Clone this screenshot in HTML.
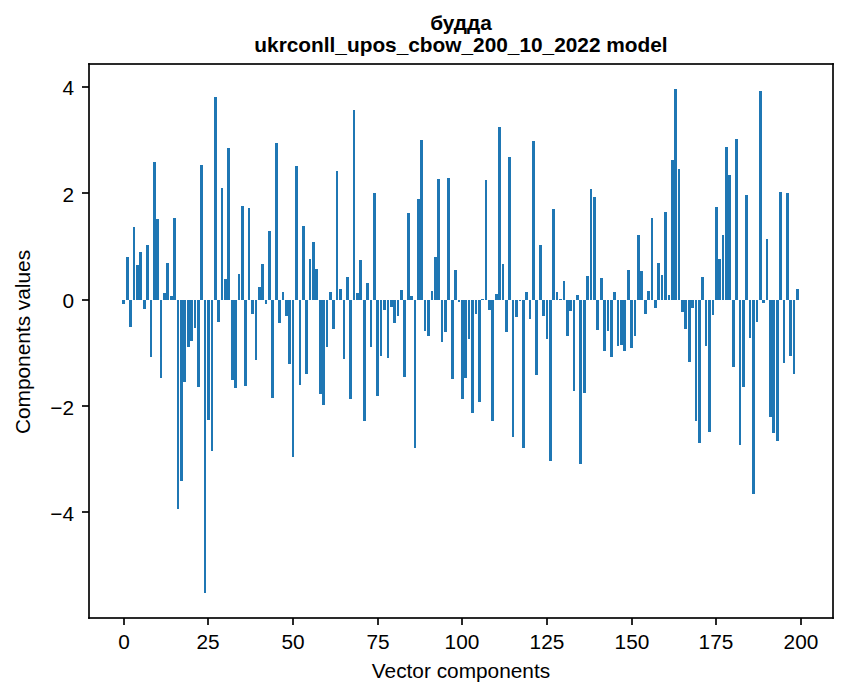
<!DOCTYPE html>
<html lang="uk">
<head>
<meta charset="utf-8">
<title>будда — ukrconll_upos_cbow_200_10_2022 model</title>
<style>
html,body{margin:0;padding:0;background:#fff;}
body{width:847px;height:696px;overflow:hidden;font-family:"Liberation Sans",sans-serif;}
svg{display:block;}
</style>
</head>
<body>
<svg width="847" height="696" viewBox="0 0 847 696" role="img" aria-label="Bar chart: vector components of the word будда, ukrconll_upos_cbow_200_10_2022 model">
<rect width="847" height="696" fill="#fff"/>
<g fill="#1f77b4" shape-rendering="crispEdges"><rect x="122" y="300" width="3" height="4"/><rect x="126" y="257" width="3" height="43"/><rect x="129" y="300" width="3" height="27"/><rect x="133" y="227" width="2" height="73"/><rect x="136" y="265" width="3" height="35"/><rect x="139" y="252" width="3" height="48"/><rect x="143" y="300" width="3" height="9"/><rect x="146" y="245" width="3" height="55"/><rect x="150" y="300" width="2" height="57"/><rect x="153" y="162" width="3" height="138"/><rect x="156" y="219" width="3" height="81"/><rect x="160" y="300" width="2" height="78"/><rect x="163" y="293" width="3" height="7"/><rect x="166" y="263" width="3" height="37"/><rect x="170" y="296" width="3" height="4"/><rect x="173" y="218" width="3" height="82"/><rect x="177" y="300" width="2" height="209"/><rect x="180" y="300" width="3" height="181"/><rect x="183" y="300" width="3" height="82"/><rect x="187" y="300" width="3" height="47"/><rect x="190" y="300" width="3" height="41"/><rect x="194" y="300" width="2" height="28"/><rect x="197" y="300" width="3" height="87"/><rect x="200" y="165" width="3" height="135"/><rect x="204" y="300" width="2" height="293"/><rect x="207" y="300" width="3" height="120"/><rect x="211" y="300" width="2" height="151"/><rect x="214" y="97" width="3" height="203"/><rect x="217" y="300" width="3" height="22"/><rect x="221" y="188" width="2" height="112"/><rect x="224" y="279" width="3" height="21"/><rect x="227" y="148" width="3" height="152"/><rect x="231" y="300" width="3" height="80"/><rect x="234" y="300" width="3" height="88"/><rect x="238" y="274" width="2" height="26"/><rect x="241" y="206" width="3" height="94"/><rect x="244" y="300" width="3" height="86"/><rect x="248" y="208" width="2" height="92"/><rect x="251" y="300" width="3" height="14"/><rect x="255" y="300" width="2" height="60"/><rect x="258" y="287" width="3" height="13"/><rect x="261" y="264" width="3" height="36"/><rect x="265" y="300" width="2" height="4"/><rect x="268" y="231" width="3" height="69"/><rect x="271" y="300" width="3" height="98"/><rect x="275" y="143" width="3" height="157"/><rect x="278" y="300" width="3" height="23"/><rect x="282" y="292" width="2" height="8"/><rect x="285" y="300" width="3" height="16"/><rect x="288" y="300" width="3" height="64"/><rect x="292" y="300" width="2" height="157"/><rect x="295" y="166" width="3" height="134"/><rect x="299" y="300" width="2" height="85"/><rect x="302" y="226" width="3" height="74"/><rect x="305" y="300" width="3" height="74"/><rect x="309" y="259" width="2" height="41"/><rect x="312" y="242" width="3" height="58"/><rect x="315" y="269" width="3" height="31"/><rect x="319" y="300" width="3" height="94"/><rect x="322" y="300" width="3" height="105"/><rect x="326" y="300" width="2" height="47"/><rect x="329" y="292" width="3" height="8"/><rect x="332" y="300" width="3" height="29"/><rect x="336" y="171" width="2" height="129"/><rect x="339" y="289" width="3" height="11"/><rect x="343" y="300" width="2" height="59"/><rect x="346" y="277" width="3" height="23"/><rect x="349" y="300" width="3" height="99"/><rect x="353" y="110" width="2" height="190"/><rect x="356" y="293" width="3" height="7"/><rect x="359" y="260" width="3" height="40"/><rect x="363" y="300" width="3" height="121"/><rect x="366" y="283" width="3" height="17"/><rect x="370" y="300" width="2" height="47"/><rect x="373" y="193" width="3" height="107"/><rect x="376" y="300" width="3" height="96"/><rect x="380" y="300" width="2" height="56"/><rect x="383" y="300" width="3" height="10"/><rect x="387" y="300" width="2" height="58"/><rect x="390" y="300" width="3" height="7"/><rect x="393" y="300" width="3" height="23"/><rect x="397" y="300" width="2" height="16"/><rect x="400" y="290" width="3" height="10"/><rect x="403" y="300" width="3" height="77"/><rect x="407" y="213" width="3" height="87"/><rect x="410" y="296" width="3" height="4"/><rect x="414" y="300" width="2" height="148"/><rect x="417" y="199" width="3" height="101"/><rect x="420" y="140" width="3" height="160"/><rect x="424" y="300" width="2" height="31"/><rect x="427" y="300" width="3" height="36"/><rect x="431" y="291" width="2" height="9"/><rect x="434" y="257" width="3" height="43"/><rect x="437" y="179" width="3" height="121"/><rect x="441" y="300" width="2" height="42"/><rect x="444" y="300" width="3" height="32"/><rect x="447" y="178" width="3" height="122"/><rect x="451" y="300" width="3" height="79"/><rect x="454" y="270" width="3" height="30"/><rect x="458" y="300" width="2" height="2"/><rect x="461" y="300" width="3" height="99"/><rect x="464" y="300" width="3" height="78"/><rect x="468" y="300" width="2" height="39"/><rect x="471" y="300" width="3" height="113"/><rect x="475" y="300" width="2" height="14"/><rect x="478" y="300" width="3" height="102"/><rect x="481" y="299" width="3" height="1"/><rect x="485" y="180" width="2" height="120"/><rect x="488" y="300" width="3" height="10"/><rect x="491" y="300" width="3" height="121"/><rect x="495" y="294" width="3" height="6"/><rect x="498" y="127" width="3" height="173"/><rect x="502" y="264" width="2" height="36"/><rect x="505" y="300" width="3" height="32"/><rect x="508" y="157" width="3" height="143"/><rect x="512" y="300" width="2" height="137"/><rect x="515" y="300" width="3" height="17"/><rect x="519" y="300" width="2" height="1"/><rect x="522" y="300" width="3" height="148"/><rect x="525" y="292" width="3" height="8"/><rect x="529" y="300" width="2" height="19"/><rect x="532" y="141" width="3" height="159"/><rect x="535" y="300" width="3" height="75"/><rect x="539" y="245" width="3" height="55"/><rect x="542" y="300" width="3" height="16"/><rect x="546" y="300" width="2" height="39"/><rect x="549" y="300" width="3" height="161"/><rect x="552" y="209" width="3" height="91"/><rect x="556" y="292" width="2" height="8"/><rect x="559" y="299" width="3" height="1"/><rect x="563" y="281" width="2" height="19"/><rect x="566" y="300" width="3" height="36"/><rect x="569" y="300" width="3" height="11"/><rect x="573" y="300" width="2" height="91"/><rect x="576" y="295" width="3" height="5"/><rect x="579" y="300" width="3" height="164"/><rect x="583" y="300" width="3" height="93"/><rect x="586" y="276" width="3" height="24"/><rect x="590" y="189" width="2" height="111"/><rect x="593" y="197" width="3" height="103"/><rect x="596" y="300" width="3" height="30"/><rect x="600" y="278" width="3" height="22"/><rect x="603" y="300" width="3" height="51"/><rect x="607" y="300" width="2" height="31"/><rect x="610" y="300" width="3" height="57"/><rect x="613" y="292" width="3" height="8"/><rect x="617" y="300" width="2" height="46"/><rect x="620" y="300" width="3" height="45"/><rect x="623" y="300" width="3" height="51"/><rect x="627" y="270" width="3" height="30"/><rect x="630" y="300" width="3" height="48"/><rect x="634" y="300" width="2" height="36"/><rect x="637" y="235" width="3" height="65"/><rect x="640" y="271" width="3" height="29"/><rect x="644" y="300" width="3" height="14"/><rect x="647" y="291" width="3" height="9"/><rect x="651" y="218" width="2" height="82"/><rect x="654" y="300" width="3" height="8"/><rect x="657" y="263" width="3" height="37"/><rect x="661" y="275" width="2" height="25"/><rect x="664" y="212" width="3" height="88"/><rect x="668" y="295" width="2" height="5"/><rect x="671" y="160" width="3" height="140"/><rect x="674" y="89" width="3" height="211"/><rect x="678" y="169" width="2" height="131"/><rect x="681" y="300" width="3" height="12"/><rect x="684" y="300" width="3" height="29"/><rect x="688" y="300" width="3" height="62"/><rect x="691" y="300" width="3" height="8"/><rect x="695" y="300" width="2" height="121"/><rect x="698" y="300" width="3" height="143"/><rect x="701" y="277" width="3" height="23"/><rect x="705" y="300" width="2" height="46"/><rect x="708" y="300" width="3" height="132"/><rect x="712" y="300" width="2" height="15"/><rect x="715" y="207" width="3" height="93"/><rect x="718" y="259" width="3" height="41"/><rect x="722" y="235" width="2" height="65"/><rect x="725" y="147" width="3" height="153"/><rect x="728" y="175" width="3" height="125"/><rect x="732" y="300" width="3" height="67"/><rect x="735" y="139" width="3" height="161"/><rect x="739" y="300" width="2" height="145"/><rect x="742" y="300" width="3" height="87"/><rect x="745" y="195" width="3" height="105"/><rect x="749" y="300" width="2" height="38"/><rect x="752" y="300" width="3" height="194"/><rect x="756" y="300" width="2" height="22"/><rect x="759" y="91" width="3" height="209"/><rect x="762" y="300" width="3" height="3"/><rect x="766" y="239" width="2" height="61"/><rect x="769" y="300" width="3" height="117"/><rect x="772" y="300" width="3" height="133"/><rect x="776" y="300" width="3" height="141"/><rect x="779" y="192" width="3" height="108"/><rect x="783" y="300" width="2" height="63"/><rect x="786" y="193" width="3" height="107"/><rect x="789" y="300" width="3" height="56"/><rect x="793" y="300" width="2" height="74"/><rect x="796" y="289" width="3" height="11"/></g>
<g fill="#000" fill-opacity="0.835" shape-rendering="crispEdges"><rect x="90" y="63" width="742" height="2"/><rect x="90" y="617" width="742" height="2"/><rect x="88" y="65" width="2" height="552"/><rect x="832" y="65" width="2" height="552"/><rect x="123" y="618" width="2" height="7"/><rect x="207" y="618" width="2" height="7"/><rect x="292" y="618" width="2" height="7"/><rect x="377" y="618" width="2" height="7"/><rect x="461" y="618" width="2" height="7"/><rect x="546" y="618" width="2" height="7"/><rect x="631" y="618" width="2" height="7"/><rect x="715" y="618" width="2" height="7"/><rect x="800" y="618" width="2" height="7"/><rect x="82" y="511" width="7" height="2"/><rect x="82" y="405" width="7" height="2"/><rect x="82" y="299" width="7" height="2"/><rect x="82" y="192" width="7" height="2"/><rect x="82" y="86" width="7" height="2"/></g>
<g shape-rendering="crispEdges"><rect x="88" y="63" width="1" height="1" fill="#171717"/><rect x="89" y="63" width="1" height="1" fill="#0c0c0c"/><rect x="88" y="64" width="1" height="1" fill="#0c0c0c"/><rect x="89" y="64" width="1" height="1" fill="#070707"/><rect x="832" y="63" width="1" height="1" fill="#0c0c0c"/><rect x="833" y="63" width="1" height="1" fill="#171717"/><rect x="832" y="64" width="1" height="1" fill="#070707"/><rect x="833" y="64" width="1" height="1" fill="#0c0c0c"/><rect x="88" y="617" width="1" height="1" fill="#0c0c0c"/><rect x="89" y="617" width="1" height="1" fill="#070707"/><rect x="88" y="618" width="1" height="1" fill="#171717"/><rect x="89" y="618" width="1" height="1" fill="#0c0c0c"/><rect x="832" y="617" width="1" height="1" fill="#070707"/><rect x="833" y="617" width="1" height="1" fill="#0c0c0c"/><rect x="832" y="618" width="1" height="1" fill="#0c0c0c"/><rect x="833" y="618" width="1" height="1" fill="#171717"/></g>
<g font-family="'Liberation Sans', 'DejaVu Sans', sans-serif" font-size="20.833" fill="#000" stroke="none">
<text x="124" y="649" text-anchor="middle">0</text>
<text x="208" y="649" text-anchor="middle">25</text>
<text x="293" y="649" text-anchor="middle">50</text>
<text x="378" y="649" text-anchor="middle">75</text>
<text x="462" y="649" text-anchor="middle">100</text>
<text x="547" y="649" text-anchor="middle">125</text>
<text x="632" y="649" text-anchor="middle">150</text>
<text x="716" y="649" text-anchor="middle">175</text>
<text x="801" y="649" text-anchor="middle">200</text>
<text x="461" y="678" text-anchor="middle">Vector components</text>
<text x="74" y="521" text-anchor="end">−4</text>
<text x="74" y="415" text-anchor="end">−2</text>
<text x="74" y="308" text-anchor="end">0</text>
<text x="74" y="202" text-anchor="end">2</text>
<text x="74" y="95" text-anchor="end">4</text>
<text transform="translate(30 342) rotate(-90)" text-anchor="middle">Components values</text>
<text x="461" y="30" text-anchor="middle" font-weight="bold">будда</text>
<text x="461" y="52" text-anchor="middle" font-weight="bold">ukrconll_upos_cbow_200_10_2022 model</text>
</g>
</svg>
</body>
</html>
